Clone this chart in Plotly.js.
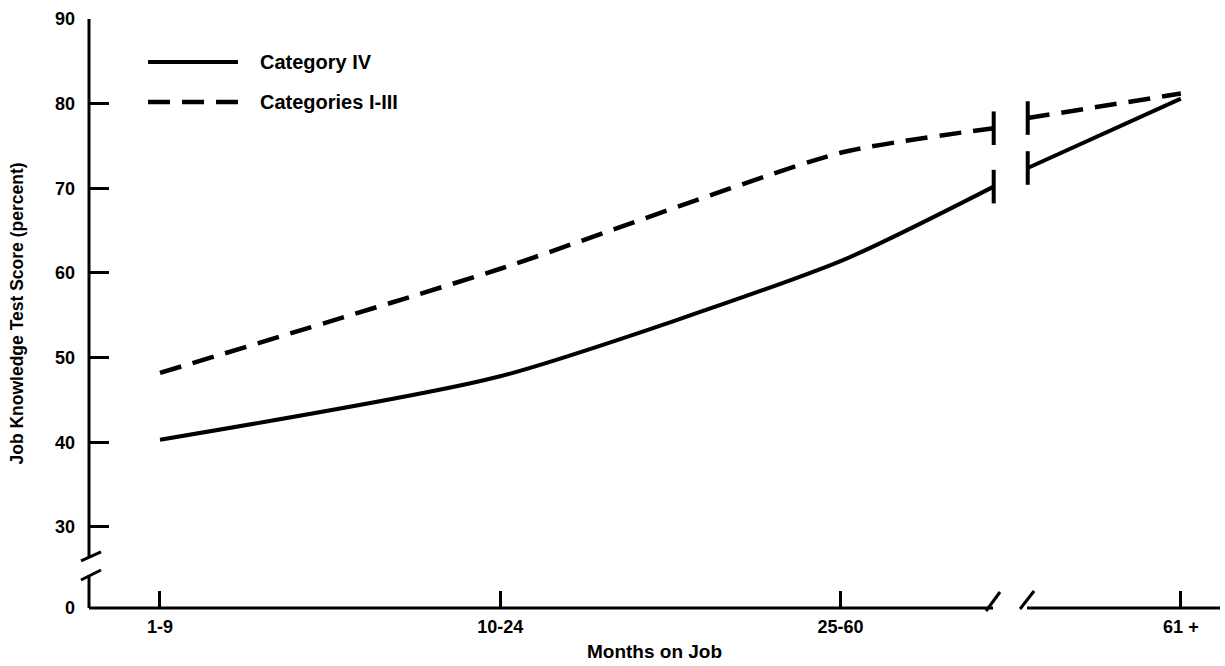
<!DOCTYPE html>
<html>
<head>
<meta charset="utf-8">
<script src="https://cdn.plot.ly/plotly-3.0.1.min.js"></script>
<style>
  html, body { margin: 0; padding: 0; background: #ffffff; }
  #chart { width: 1225px; height: 666px; }
</style>
</head>
<body>
<div id="chart"></div>
<script>
// ---------------- data ----------------
const categories = ['1-9', '10-24', '25-60', '61 +'];          // months on job
const categoryIV = [40.3, 47.8, 61.4, 80.6];                     // solid line
const categoriesI_III = [48.2, 60.5, 74.2, 81.2];                // dashed line
// values where each line is cut at the x-axis break (left edge, right edge)
const breakEdges = [2.45, 2.55];
const categoryIV_atBreak = [70.2, 72.4];
const categoriesI_III_atBreak = [77.1, 78.3];
// y tick labels (0 shown below a broken axis)
const yTickText = ['0', '30', '40', '50', '60', '70', '80', '90'];
const yTickValues = [30, 40, 50, 60, 70, 80, 90];

// ---------------- layout constants ----------------
const yZeroPos = 20.43;          // where "0" sits below the axis break
const yBreak = [24.33, 26.46];   // gap in the y axis line
const xRange = [-0.2086, 3.115];
const xAxisBreak = [2.448, 2.548];

const idx = categories.map((_, i) => i);

function brokenSeries(vals, atBreak) {
  return {
    x: [idx[0], idx[1], idx[2], breakEdges[0], null, breakEdges[1], idx[3]],
    y: [vals[0], vals[1], vals[2], atBreak[0], null, atBreak[1], vals[3]]
  };
}

const s4 = brokenSeries(categoryIV, categoryIV_atBreak);
const s13 = brokenSeries(categoriesI_III, categoriesI_III_atBreak);

const traces = [
  {
    x: s4.x, y: s4.y, mode: 'lines', name: 'Category IV',
    line: { color: '#000', width: 4, shape: 'spline', smoothing: 0.6 },
    connectgaps: false, showlegend: false, hoverinfo: 'skip'
  },
  {
    x: s13.x, y: s13.y, mode: 'lines', name: 'Categories I-III',
    line: { color: '#000', width: 4.5, dash: '22px,12px', shape: 'spline', smoothing: 0.6 },
    connectgaps: false, showlegend: false, hoverinfo: 'skip'
  },
  {
    x: breakEdges, y: categoryIV_atBreak, mode: 'markers',
    marker: { symbol: 'line-ns', size: 24, line: { color: '#000', width: 4 } },
    showlegend: false, hoverinfo: 'skip'
  },
  {
    x: breakEdges, y: categoriesI_III_atBreak, mode: 'markers',
    marker: { symbol: 'line-ns', size: 24, line: { color: '#000', width: 4 } },
    showlegend: false, hoverinfo: 'skip'
  }
];

const FONT = 'Liberation Sans, Arial, sans-serif';
const axisLine = { color: '#000', width: 3 };

const shapes = [
  // y axis line (two pieces)
  { type: 'line', xref: 'paper', yref: 'y', x0: 0, x1: 0, y0: yBreak[1], y1: 90.2, line: axisLine },
  { type: 'line', xref: 'paper', yref: 'y', x0: 0, x1: 0, y0: yZeroPos, y1: yBreak[0], line: axisLine },
  // y axis break slashes
  { type: 'line', xref: 'paper', yref: 'y', xsizemode: 'pixel', ysizemode: 'pixel',
    xanchor: 0, yanchor: yBreak[1], x0: -8, x1: 12, y0: -4, y1: 5, line: axisLine },
  { type: 'line', xref: 'paper', yref: 'y', xsizemode: 'pixel', ysizemode: 'pixel',
    xanchor: 0, yanchor: yBreak[0], x0: -8, x1: 12, y0: -5, y1: 5, line: axisLine },
  // x axis line (two pieces)
  { type: 'line', xref: 'x', yref: 'paper', x0: xRange[0], x1: xAxisBreak[0], y0: 0, y1: 0, line: axisLine },
  { type: 'line', xref: 'x', yref: 'paper', x0: xAxisBreak[1], x1: xRange[1], y0: 0, y1: 0, line: axisLine },
  // x axis break slashes
  { type: 'line', xref: 'x', yref: 'paper', xsizemode: 'pixel', ysizemode: 'pixel',
    xanchor: xAxisBreak[0], yanchor: 0, x0: -7, x1: 7, y0: -3, y1: 16, line: axisLine },
  { type: 'line', xref: 'x', yref: 'paper', xsizemode: 'pixel', ysizemode: 'pixel',
    xanchor: xAxisBreak[1], yanchor: 0, x0: -7, x1: 7, y0: -1, y1: 17, line: axisLine },
  // legend samples
  { type: 'line', xref: 'paper', yref: 'paper', x0: 0.0522, x1: 0.1317, y0: 0.927, y1: 0.927,
    line: { color: '#000', width: 4 } },
  { type: 'line', xref: 'paper', yref: 'paper', x0: 0.0522, x1: 0.1317, y0: 0.859, y1: 0.859,
    line: { color: '#000', width: 4.5, dash: '22px,12px' } }
];

const annotations = [
  { xref: 'paper', yref: 'paper', x: 0.1494, y: 0.927, xanchor: 'left', yanchor: 'middle',
    text: 'Category IV', showarrow: false, font: { family: FONT, size: 20, color: '#000', weight: 'bold' } },
  { xref: 'paper', yref: 'paper', x: 0.1494, y: 0.859, xanchor: 'left', yanchor: 'middle',
    text: 'Categories I-III', showarrow: false, font: { family: FONT, size: 20, color: '#000', weight: 'bold' } }
];

const layout = {
  width: 1225, height: 666,
  margin: { l: 89, r: 5, t: 19, b: 58 },
  paper_bgcolor: '#ffffff', plot_bgcolor: '#ffffff',
  showlegend: false,
  font: { family: FONT, color: '#000', size: 18, weight: 'bold' },
  xaxis: {
    range: xRange,
    tickmode: 'array', tickvals: idx, ticktext: categories,
    ticks: 'inside', ticklen: 17, tickwidth: 3, tickcolor: '#000',
    ticklabelstandoff: 6,
    showgrid: false, zeroline: false, showline: false,
    tickfont: { family: FONT, size: 18, color: '#000', weight: 'bold' },
    title: { text: 'Months on Job', standoff: 8,
             font: { family: FONT, size: 19, color: '#000', weight: 'bold' } }
  },
  yaxis: {
    range: [yZeroPos, 90],
    tickmode: 'array', tickvals: [yZeroPos].concat(yTickValues), ticktext: yTickText,
    ticks: 'inside', ticklen: 20, tickwidth: 3, tickcolor: '#000',
    ticklabelstandoff: 13,
    showgrid: false, zeroline: false, showline: false,
    tickfont: { family: FONT, size: 18, color: '#000', weight: 'bold' },
    title: { text: 'Job Knowledge Test Score (percent)', standoff: 26,
             font: { family: FONT, size: 17.5, color: '#000', weight: 'bold' } }
  },
  shapes: shapes,
  annotations: annotations
};

Plotly.newPlot('chart', traces, layout, { displayModeBar: false, staticPlot: true });
</script>
</body>
</html>
